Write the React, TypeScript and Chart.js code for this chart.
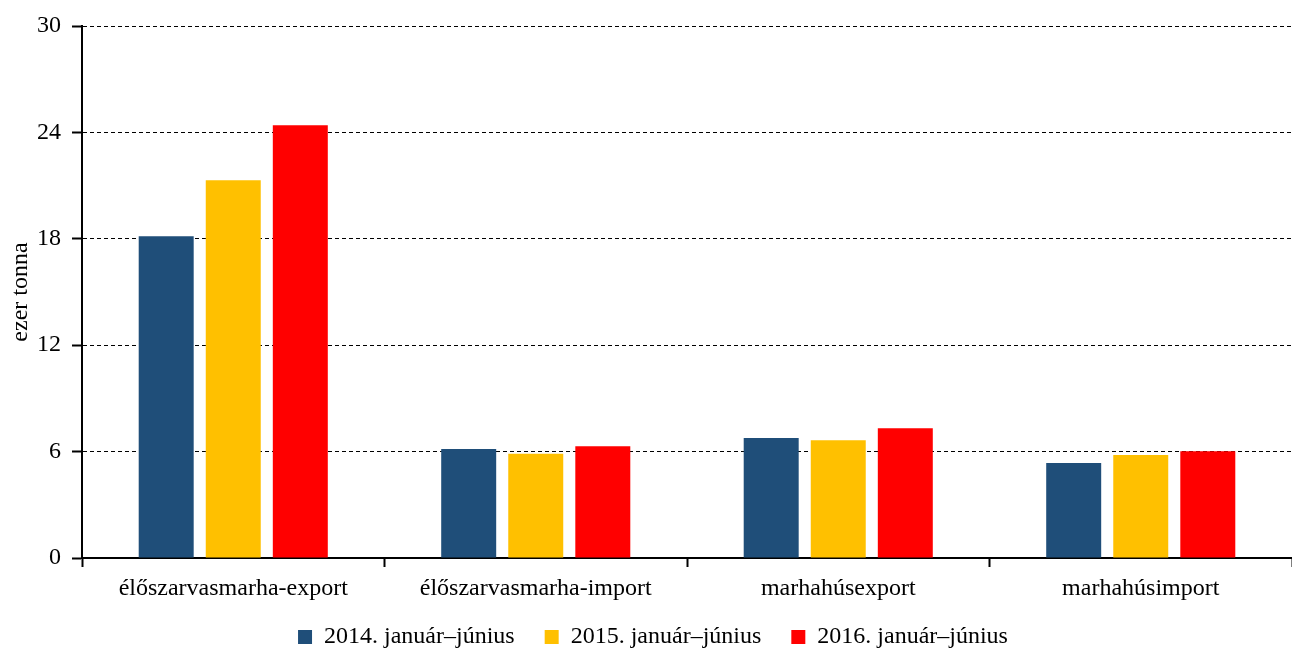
import React, { useEffect, useRef } from "react";
import { Chart, registerables } from "chart.js";

Chart.register(...registerables);

const categories = [
  "élőszarvasmarha-export",
  "élőszarvasmarha-import",
  "marhahúsexport",
  "marhahúsimport",
];
const seriesLabels = [
  "2014. január–június",
  "2015. január–június",
  "2016. január–június",
];
const values2014 = [18.15, 6.15, 6.77, 5.36];
const values2015 = [21.3, 5.88, 6.64, 5.81];
const values2016 = [24.4, 6.3, 7.31, 6.02];
const seriesColors = ["#1F4E79", "#FFC000", "#FF0000"];
const yTicks = [0, 6, 12, 18, 24, 30];
const yTitle = "ezer tonna";

const legendShift = {
  id: "legendShift",
  afterLayout(chart: any) {
    const lg = chart.legend;
    if (lg) {
      lg.left += 7;
      lg.right += 7;
      lg.top -= 8;
      lg.bottom -= 8;
    }
  },
};

export default function App() {
  const canvasRef = useRef<HTMLCanvasElement | null>(null);

  useEffect(() => {
    document.body.style.margin = "0";
    const canvas = canvasRef.current;
    if (!canvas) return;
    const font = { family: "'Liberation Serif', 'Times New Roman', serif", size: 24 };
    Chart.defaults.font.family = font.family;
    Chart.defaults.color = "#000";

    const chart = new Chart(canvas, {
      type: "bar",
      data: {
        labels: categories,
        datasets: [values2014, values2015, values2016].map((d, i) => ({
          label: seriesLabels[i],
          data: d,
          backgroundColor: seriesColors[i],
          borderWidth: 0,
          categoryPercentage: 0.665,
          barPercentage: 0.82,
        })),
      },
      plugins: [legendShift],
      options: {
        animation: false,
        responsive: true,
        maintainAspectRatio: false,
        layout: { padding: { top: 26, right: 0, bottom: -16, left: 0 } },
        plugins: {
          tooltip: { enabled: false },
          legend: {
            position: "bottom",
            labels: {
              font,
              color: "#000",
              boxWidth: 14,
              boxHeight: 14,
              padding: 30,
            },
          },
        },
        scales: {
          x: {
            grid: {
              display: true,
              offset: true,
              drawOnChartArea: false,
              drawTicks: true,
              tickLength: 9,
              tickColor: "#000",
              tickWidth: 2,
            },
            border: { display: true, color: "#000", width: 2 },
            ticks: { font, color: "#000", padding: 7, maxRotation: 0 },
            afterFit: (scale: any) => {
              scale.height = 45;
            },
          },
          y: {
            min: 0,
            max: 30,
            afterBuildTicks: (scale: any) => {
              scale.ticks = yTicks.map((v) => ({ value: v }));
            },
            grid: {
              color: "#000",
              lineWidth: 1,
              drawTicks: true,
              tickLength: 10,
              tickColor: "#000",
              tickWidth: 2,
              tickBorderDash: [],
            },
            border: { display: true, color: "#000", width: 2, dash: [4, 3] },
            ticks: { font, color: "#000", padding: 11 },
            title: {
              display: true,
              text: yTitle,
              font,
              color: "#000",
              padding: { top: 6, bottom: 4 },
            },
            afterFit: (scale: any) => {
              scale.width = 82;
            },
          },
        },
      },
    });
    return () => chart.destroy();
  }, []);

  return (
    <div style={{ position: "relative", width: "1292px", height: "651px" }}>
      <canvas ref={canvasRef} />
    </div>
  );
}
